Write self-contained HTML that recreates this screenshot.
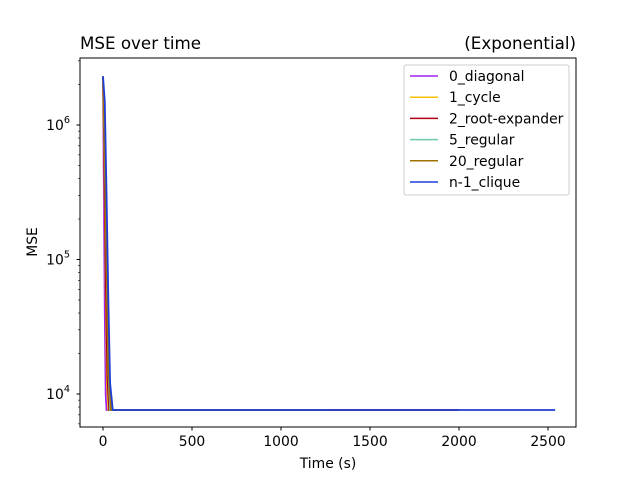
<!DOCTYPE html>
<html><head><meta charset="utf-8"><style>
body{margin:0;background:#fff;font-family:"DejaVu Sans",sans-serif}
svg text{font-family:"DejaVu Sans",sans-serif;fill:#000}
</style></head><body>
<svg width="640" height="480" xmlns="http://www.w3.org/2000/svg" id="chart">
<rect width="640" height="480" fill="#fff"/>
<g id="plot"></g>
<rect x="80" y="58" width="496" height="369" fill="none" stroke="#000" stroke-width="1"/>
<g id="axes"></g>
<text x="80" y="49" font-size="16.7">MSE over time</text>
<text x="576" y="49" font-size="16.7" text-anchor="end">(Exponential)</text>
<text x="328" y="468" font-size="13.9" text-anchor="middle">Time (s)</text>
<text transform="translate(37,242) rotate(-90)" font-size="13.9" text-anchor="middle">MSE</text>
<g id="legend"></g>
</svg>
<script>
const seriesNames=["0_diagonal","1_cycle","2_root-expander","5_regular","20_regular","n-1_clique"];
const seriesColors=["#a020f0","#f5c000","#b00010","#6cc8a8","#a07000","#1e3ddc"];
const tDiag=[0,5,10,15,20,1250], vDiag=[2300000,300000,40000,10000,7600,7600];
const tCycle=[0,8,15,22,30,1500], vCycle=[2300000,400000,60000,12000,7600,7600];
const tRoot=[0,8,16,25,35,2000], vRoot=[2300000,500000,70000,13000,7600,7600];
const tReg5=[0,10,20,30,40,1250], vReg5=[2300000,600000,90000,15000,7600,7600];
const tReg20=[0,10,20,30,45,2000], vReg20=[2300000,700000,100000,16000,7600,7600];
const tClique=[0,10,20,30,40,55,2540], vClique=[2300000,1500000,300000,50000,12000,7600,7600];
const seriesT=[tDiag,tCycle,tRoot,tReg5,tReg20,tClique];
const seriesV=[vDiag,vCycle,vRoot,vReg5,vReg20,vClique];
const xTicks=[0,500,1000,1500,2000,2500];
const yTicks=[4,5,6];

const NS="http://www.w3.org/2000/svg";
const X=t=>103+t*0.178;
const Y=v=>394-(Math.log10(v)-4)*134.5;
function mk(tag,attrs,parent){const e=document.createElementNS(NS,tag);for(const k in attrs)e.setAttribute(k,attrs[k]);parent.appendChild(e);return e;}
const plot=document.getElementById('plot'),axes=document.getElementById('axes'),leg=document.getElementById('legend');
seriesNames.forEach((n,i)=>{
  const d=seriesT[i].map((t,j)=>(j?'L':'M')+X(t).toFixed(2)+','+Y(seriesV[i][j]).toFixed(2)).join('');
  const p=mk('path',{d:d,fill:'none',stroke:seriesColors[i],'stroke-width':1.8},plot);
  
  
});
xTicks.forEach(t=>{
  const l=mk('line',{x1:X(t),x2:X(t),y1:427,y2:430.5,stroke:'#000'},axes);
  
  
  const tx=mk('text',{x:X(t),y:446,'font-size':13.9,'text-anchor':'middle'},axes);
  tx.textContent=t;
  
  
});
yTicks.forEach(e=>{
  const y=Y(Math.pow(10,e));
  const l=mk('line',{x1:76.5,x2:80,y1:y,y2:y,stroke:'#000'},axes);
  
  
  const tx=mk('text',{x:70,y:y+5,'font-size':13.9,'text-anchor':'end'},axes);
  tx.innerHTML='10<tspan dy="-7" font-size="9.7">'+e+'</tspan>';
  
  
  for(let m=2;m<10;m++){
    const v=m*Math.pow(10,e-1);const yy=Y(v);
    if(yy<58||yy>427)continue;
    const ml=mk('line',{x1:78,x2:80,y1:yy,y2:yy,stroke:'#000','stroke-width':0.6},axes);
    
    
  }
});
for(let m=2;m<10;m++){const yy=Y(m*1e6);if(yy<58)continue;const ml=mk('line',{x1:78,x2:80,y1:yy,y2:yy,stroke:'#000','stroke-width':0.6},axes);}
const box=mk('rect',{x:404,y:65,width:165,height:130,rx:2,fill:'#fff','fill-opacity':0.8,stroke:'#ccc'},leg);


seriesNames.forEach((n,i)=>{
  const y=76+i*21.2;
  const g=mk('g',{},leg);
  
  
  mk('line',{x1:410,x2:438,y1:y,y2:y,stroke:seriesColors[i],'stroke-width':1.5},g);
  const t=mk('text',{x:449,y:y+5,'font-size':13.9},g);
  t.textContent=n;
});
</script>
</body></html>
